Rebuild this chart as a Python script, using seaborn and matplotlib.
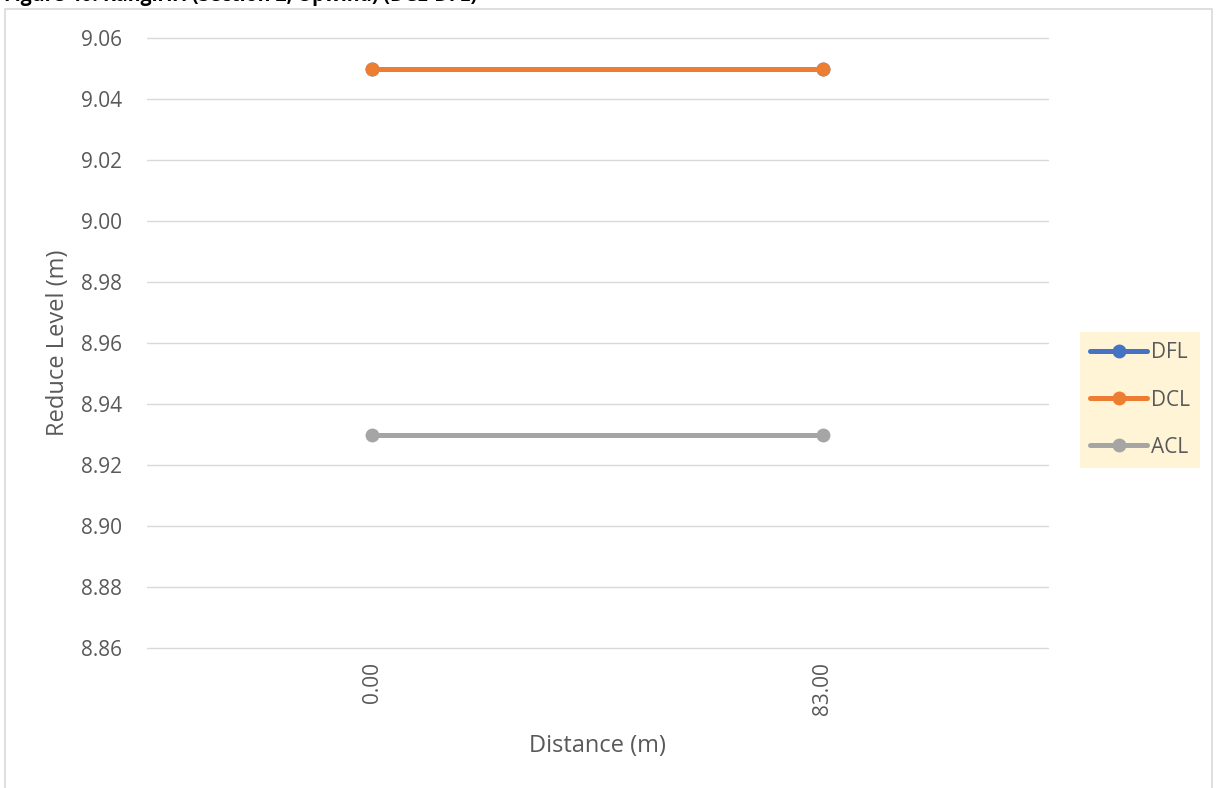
import matplotlib
matplotlib.use("Agg")
import matplotlib.pyplot as plt
import seaborn as sns
import pandas as pd
from matplotlib.patches import Rectangle

distance = ["0.00", "83.00"]
dfl = [9.05, 9.05]
dcl = [9.05, 9.05]
acl = [8.93, 8.93]
series_names = ["DFL", "DCL", "ACL"]
colors = ["#4472C4", "#ED7D31", "#A5A5A5"]
yticks = [8.86, 8.88, 8.90, 8.92, 8.94, 8.96, 8.98, 9.00, 9.02, 9.04, 9.06]

sns.set_theme(style="white")
plt.rcParams['font.family'] = ['Open Sans', 'DejaVu Sans']

rows = []
for name, vals in zip(series_names, [dfl, dcl, acl]):
    for d, v in zip(distance, vals):
        rows.append({"Distance": d, "Level": v, "Series": name})
df = pd.DataFrame(rows)

fig = plt.figure(figsize=(12.18, 7.88), dpi=100)
ax = fig.add_axes([147/1218, 1 - 648/788, (1048-147)/1218, (648-38)/788])

sns.lineplot(data=df, x="Distance", y="Level", hue="Series", hue_order=series_names,
             palette=colors, marker="o", markersize=10, markeredgewidth=0,
             linewidth=3.6, ax=ax, sort=False)

ax.set_xlim(-0.5, 1.5)
ax.set_ylim(8.86, 9.06)
ax.set_yticks(yticks)
ax.set_yticklabels([f"{v:.2f}" for v in yticks])
ax.yaxis.grid(True, color="#D9D9D9", linewidth=1)
ax.xaxis.grid(False)
ax.set_axisbelow(True)
for gl in ax.get_ygridlines():
    gl.set_clip_on(False)
for s in ax.spines.values():
    s.set_visible(False)
ax.tick_params(axis='y', colors="#595959", labelsize=15, length=0, pad=18)
ax.tick_params(axis='x', colors="#595959", labelsize=15, length=0, pad=10)
plt.setp(ax.get_xticklabels(), rotation=90)
ax.set_xlabel("Distance (m)", color="#595959", fontsize=17, labelpad=14)
ax.set_ylabel("Reduce Level (m)", color="#595959", fontsize=17, labelpad=8)

handles, labels = ax.get_legend_handles_labels()
leg = ax.legend(handles, labels, loc="center left", bbox_to_anchor=(1080/1218, 1 - 400/788),
                bbox_transform=fig.transFigure, frameon=True, fontsize=15,
                handlelength=2.7, handletextpad=0.2, labelspacing=1.25,
                borderpad=0.5, borderaxespad=0)
leg.get_frame().set_facecolor("#FFF2CC")
leg.get_frame().set_edgecolor("none")
leg.get_frame().set_boxstyle("square", pad=0)
for t in leg.get_texts():
    t.set_color("#595959")

# outer chart border
fig.patches.append(Rectangle((5/1218, -0.01), (1212-5)/1218, 1 - 9/788 + 0.01,
                             transform=fig.transFigure, fill=False,
                             edgecolor="#D9D9D9", linewidth=1.2))
# title (clipped at the top edge, as in the source)
fig.text(4/1218, 1 + 4/788, "Figure 40: Rangiriri (Section 2, Upwind) (DCL-DFL)",
         fontsize=14, fontweight="bold", color="black", va="center", ha="left")

fig.savefig("out.png", dpi=100)
